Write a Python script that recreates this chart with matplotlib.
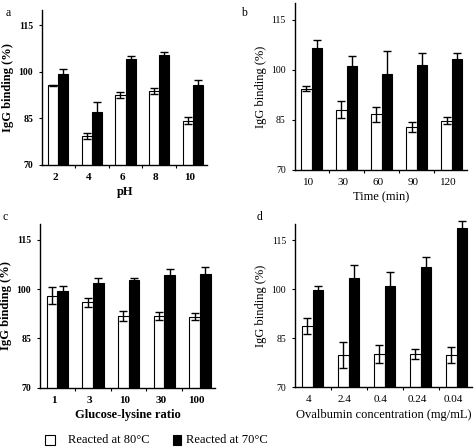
import matplotlib
matplotlib.use("Agg")
import matplotlib.pyplot as plt
from matplotlib.patches import Rectangle
import numpy as np

plt.rcParams['font.family'] = ['Liberation Serif', 'DejaVu Serif']

# Panel a: pH
ph_labels = ["2", "4", "6", "8", "10"]
ph_80 = [95.6, 79.2, 92.6, 93.7, 84.3]
ph_80_err = [0.3, 1.0, 1.0, 1.0, 1.2]
ph_70 = [99.4, 87.2, 104.0, 105.3, 95.6]
ph_70_err = [1.5, 3.0, 1.0, 1.0, 1.7]

# Panel b: time
time_labels = ["10", "30", "60", "90", "120"]
time_80 = [94.3, 88.0, 86.6, 82.7, 84.7]
time_80_err = [0.7, 2.6, 2.2, 1.5, 1.0]
time_70 = [106.5, 101.0, 98.8, 101.5, 103.2]
time_70_err = [2.4, 3.0, 6.8, 3.5, 1.9]

# Panel c: glucose-lysine ratio
ratio_labels = ["1", "3", "10", "30", "100"]
ratio_80 = [98.0, 96.0, 91.8, 91.8, 91.6]
ratio_80_err = [2.6, 1.3, 1.5, 1.2, 1.0]
ratio_70 = [99.5, 101.8, 102.8, 104.3, 104.7]
ratio_70_err = [1.5, 1.5, 0.5, 1.8, 2.0]

# Panel d: ovalbumin concentration
ova_labels = ["4", "2.4", "0.4", "0.24", "0.04"]
ova_80 = [88.8, 79.7, 80.1, 80.1, 79.9]
ova_80_err = [2.5, 4.0, 2.8, 1.5, 2.5]
ova_70 = [99.7, 103.3, 101.0, 106.9, 118.8]
ova_70_err = [1.2, 4.0, 4.4, 3.0, 2.0]

yticks = [70, 85, 100, 115]

fig = plt.figure(figsize=(4.74, 4.48), dpi=100)

panels = [
    dict(rect=[0.089, 0.632, 0.348, 0.346], labels=ph_labels, w=ph_80, we=ph_80_err,
         b=ph_70, be=ph_70_err, xlabel="pH", letter="a", bold=True, letterpos=(0.012, 0.965)),
    dict(rect=[0.622, 0.621, 0.363, 0.372], labels=time_labels, w=time_80, we=time_80_err,
         b=time_70, be=time_70_err, xlabel="Time (min)", letter="b", bold=False, letterpos=(0.508, 0.965)),
    dict(rect=[0.085, 0.135, 0.369, 0.366], labels=ratio_labels, w=ratio_80, we=ratio_80_err,
         b=ratio_70, be=ratio_70_err, xlabel="Glucose-lysine ratio", letter="c", bold=True, letterpos=(0.006, 0.51)),
    dict(rect=[0.623, 0.136, 0.373, 0.364], labels=ova_labels, w=ova_80, we=ova_80_err,
         b=ova_70, be=ova_70_err, xlabel="Ovalbumin concentration (mg/mL)", letter="d", bold=False, letterpos=(0.542, 0.51)),
]

bw = 0.3
for p in panels:
    ax = fig.add_axes(p["rect"])
    x = np.arange(len(p["labels"]))
    ax.bar(x - bw / 2, p["w"], bw, color="white", edgecolor="black", linewidth=0.8, zorder=2)
    ax.bar(x + bw / 2, p["b"], bw, color="black", edgecolor="black", linewidth=0.8, zorder=2)
    ax.errorbar(x - bw / 2, p["w"], yerr=p["we"], fmt="none", ecolor="black", elinewidth=1.0,
                capsize=3, capthick=1.0, zorder=3, clip_on=False)
    ax.errorbar(x + bw / 2, p["b"], yerr=p["be"], fmt="none", ecolor="black", elinewidth=1.0,
                capsize=3, capthick=1.0, zorder=3, clip_on=False)
    ax.set_ylim(70, 120)
    ax.set_xlim(-0.48, 4.43)
    ax.set_yticks(yticks)
    ax.set_xticks(x - 0.1)
    weight = "bold" if p["bold"] else "normal"
    ax.set_xticklabels(p["labels"], fontsize=8, fontweight=weight)
    ax.set_yticklabels([str(t) for t in yticks], fontsize=7, fontweight=weight)
    ax.set_xticks(x[:-1] + 0.5, minor=True)
    ax.tick_params(axis="x", which="major", length=0, pad=6)
    ax.tick_params(axis="x", which="minor", length=2.5, direction="out", width=0.8)
    ax.tick_params(axis="y", which="major", length=2.5, direction="out", width=0.8, pad=4)
    for s in ["top", "right"]:
        ax.spines[s].set_visible(False)
    for s in ["left", "bottom"]:
        ax.spines[s].set_linewidth(1.0)
    ax.set_xlabel(p["xlabel"], fontsize=9, fontweight=weight, labelpad=3)
    ax.set_ylabel("IgG binding (%)", fontsize=9, fontweight=weight, labelpad=3)
    fig.text(p["letterpos"][0], p["letterpos"][1], p["letter"], fontsize=8.5)

# Legend
fig.patches.append(Rectangle((45 / 474, 1 - 445 / 448), 10 / 474, 10 / 448, transform=fig.transFigure,
                             facecolor="white", edgecolor="black", linewidth=0.8))
fig.text(68 / 474, 1 - 440 / 448, "Reacted at 80\u00b0C", fontsize=9, va="center")
fig.patches.append(Rectangle((173 / 474, 1 - 445 / 448), 8 / 474, 10 / 448, transform=fig.transFigure,
                             facecolor="black", edgecolor="black", linewidth=0.8))
fig.text(186 / 474, 1 - 440 / 448, "Reacted at 70\u00b0C", fontsize=9, va="center")

fig.savefig("out.png", dpi=100)
